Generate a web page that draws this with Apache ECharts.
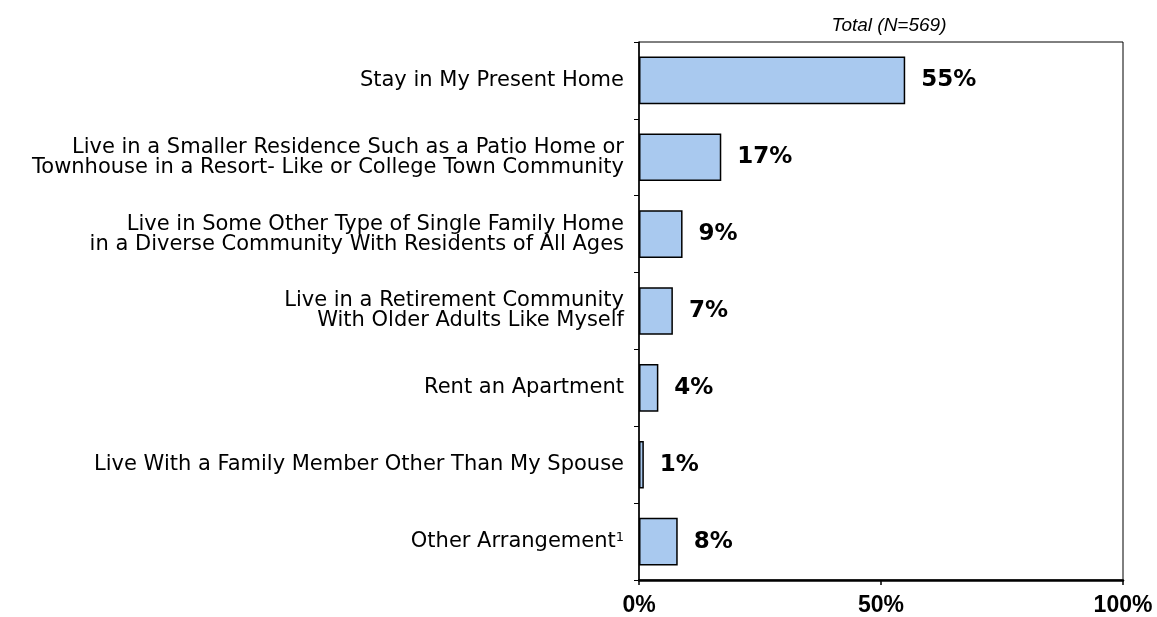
<!DOCTYPE html>
<html>
<head>
<meta charset="utf-8">
<script src="https://cdn.jsdelivr.net/npm/echarts@6/dist/echarts.min.js"></script>
<style>
  html, body { margin: 0; padding: 0; background: #fff; }
  #chart { width: 1157px; height: 617px; }
</style>
</head>
<body>
<div id="chart"></div>
<script>
// categories top to bottom
const categories = [
  'Stay in My Present Home',
  'Live in a Smaller Residence Such as a Patio Home or\nTownhouse in a Resort- Like or College Town Community',
  'Live in Some Other Type of Single Family Home\nin a Diverse Community With Residents of All Ages',
  'Live in a Retirement Community\nWith Older Adults Like Myself',
  'Rent an Apartment',
  'Live With a Family Member Other Than My Spouse',
  'Other Arrangement{sup|1}'
]
const values = [55, 17, 9, 7, 4, 1, 8]
const xTicks = [0, 50, 100]

const chart = echarts.init(document.getElementById('chart'))
chart.setOption({
  animation: false,
  title: {
    text: 'Total (N=569)',
    left: 884,
    top: 11,
    textAlign: 'center',
    textStyle: {
      fontFamily: 'Liberation Sans',
      fontStyle: 'italic',
      fontWeight: 'normal',
      fontSize: 19,
      color: '#000'
    }
  },
  grid: {
    left: 639,
    right: 34,
    top: 42,
    bottom: 37,
    show: true,
    borderColor: '#000',
    borderWidth: 1
  },
  xAxis: {
    type: 'value',
    min: 0,
    max: 100,
    interval: 50,
    splitLine: { show: false },
    axisLine: { show: true, lineStyle: { color: '#000', width: 2.5 } },
    axisTick: { show: true, length: 5, lineStyle: { color: '#000', width: 1.5 } },
    axisLabel: {
      margin: 14,
      color: '#000',
      fontFamily: 'Liberation Sans',
      fontWeight: 'bold',
      fontSize: 23,
      formatter: function (v) {
        return xTicks.indexOf(v) >= 0 ? v + '%' : ''
      }
    }
  },
  yAxis: {
    type: 'category',
    data: categories,
    inverse: true,
    axisLine: { show: true, lineStyle: { color: '#000', width: 1.5 } },
    axisTick: { show: true, length: 5, lineStyle: { color: '#000', width: 1 } },
    axisLabel: {
      margin: 15,
      color: '#000',
      fontFamily: 'DejaVu Sans',
      fontSize: 21,
      lineHeight: 20,
      align: 'right',
      rich: {
        sup: {
          fontFamily: 'DejaVu Sans',
          fontSize: 13,
          verticalAlign: 'top',
          lineHeight: 20,
          padding: [0, 0, 8, 0],
          color: '#000'
        }
      }
    }
  },
  series: [{
    type: 'bar',
    data: values,
    barWidth: '62%',
    itemStyle: {
      color: '#a9c9ef',
      borderColor: '#000',
      borderWidth: 1.5
    },
    label: {
      show: true,
      position: 'right',
      distance: 16,
      formatter: '{c}%',
      color: '#000',
      fontFamily: 'DejaVu Sans',
      fontWeight: 'bold',
      fontSize: 23
    }
  }]
})
</script>
</body>
</html>
